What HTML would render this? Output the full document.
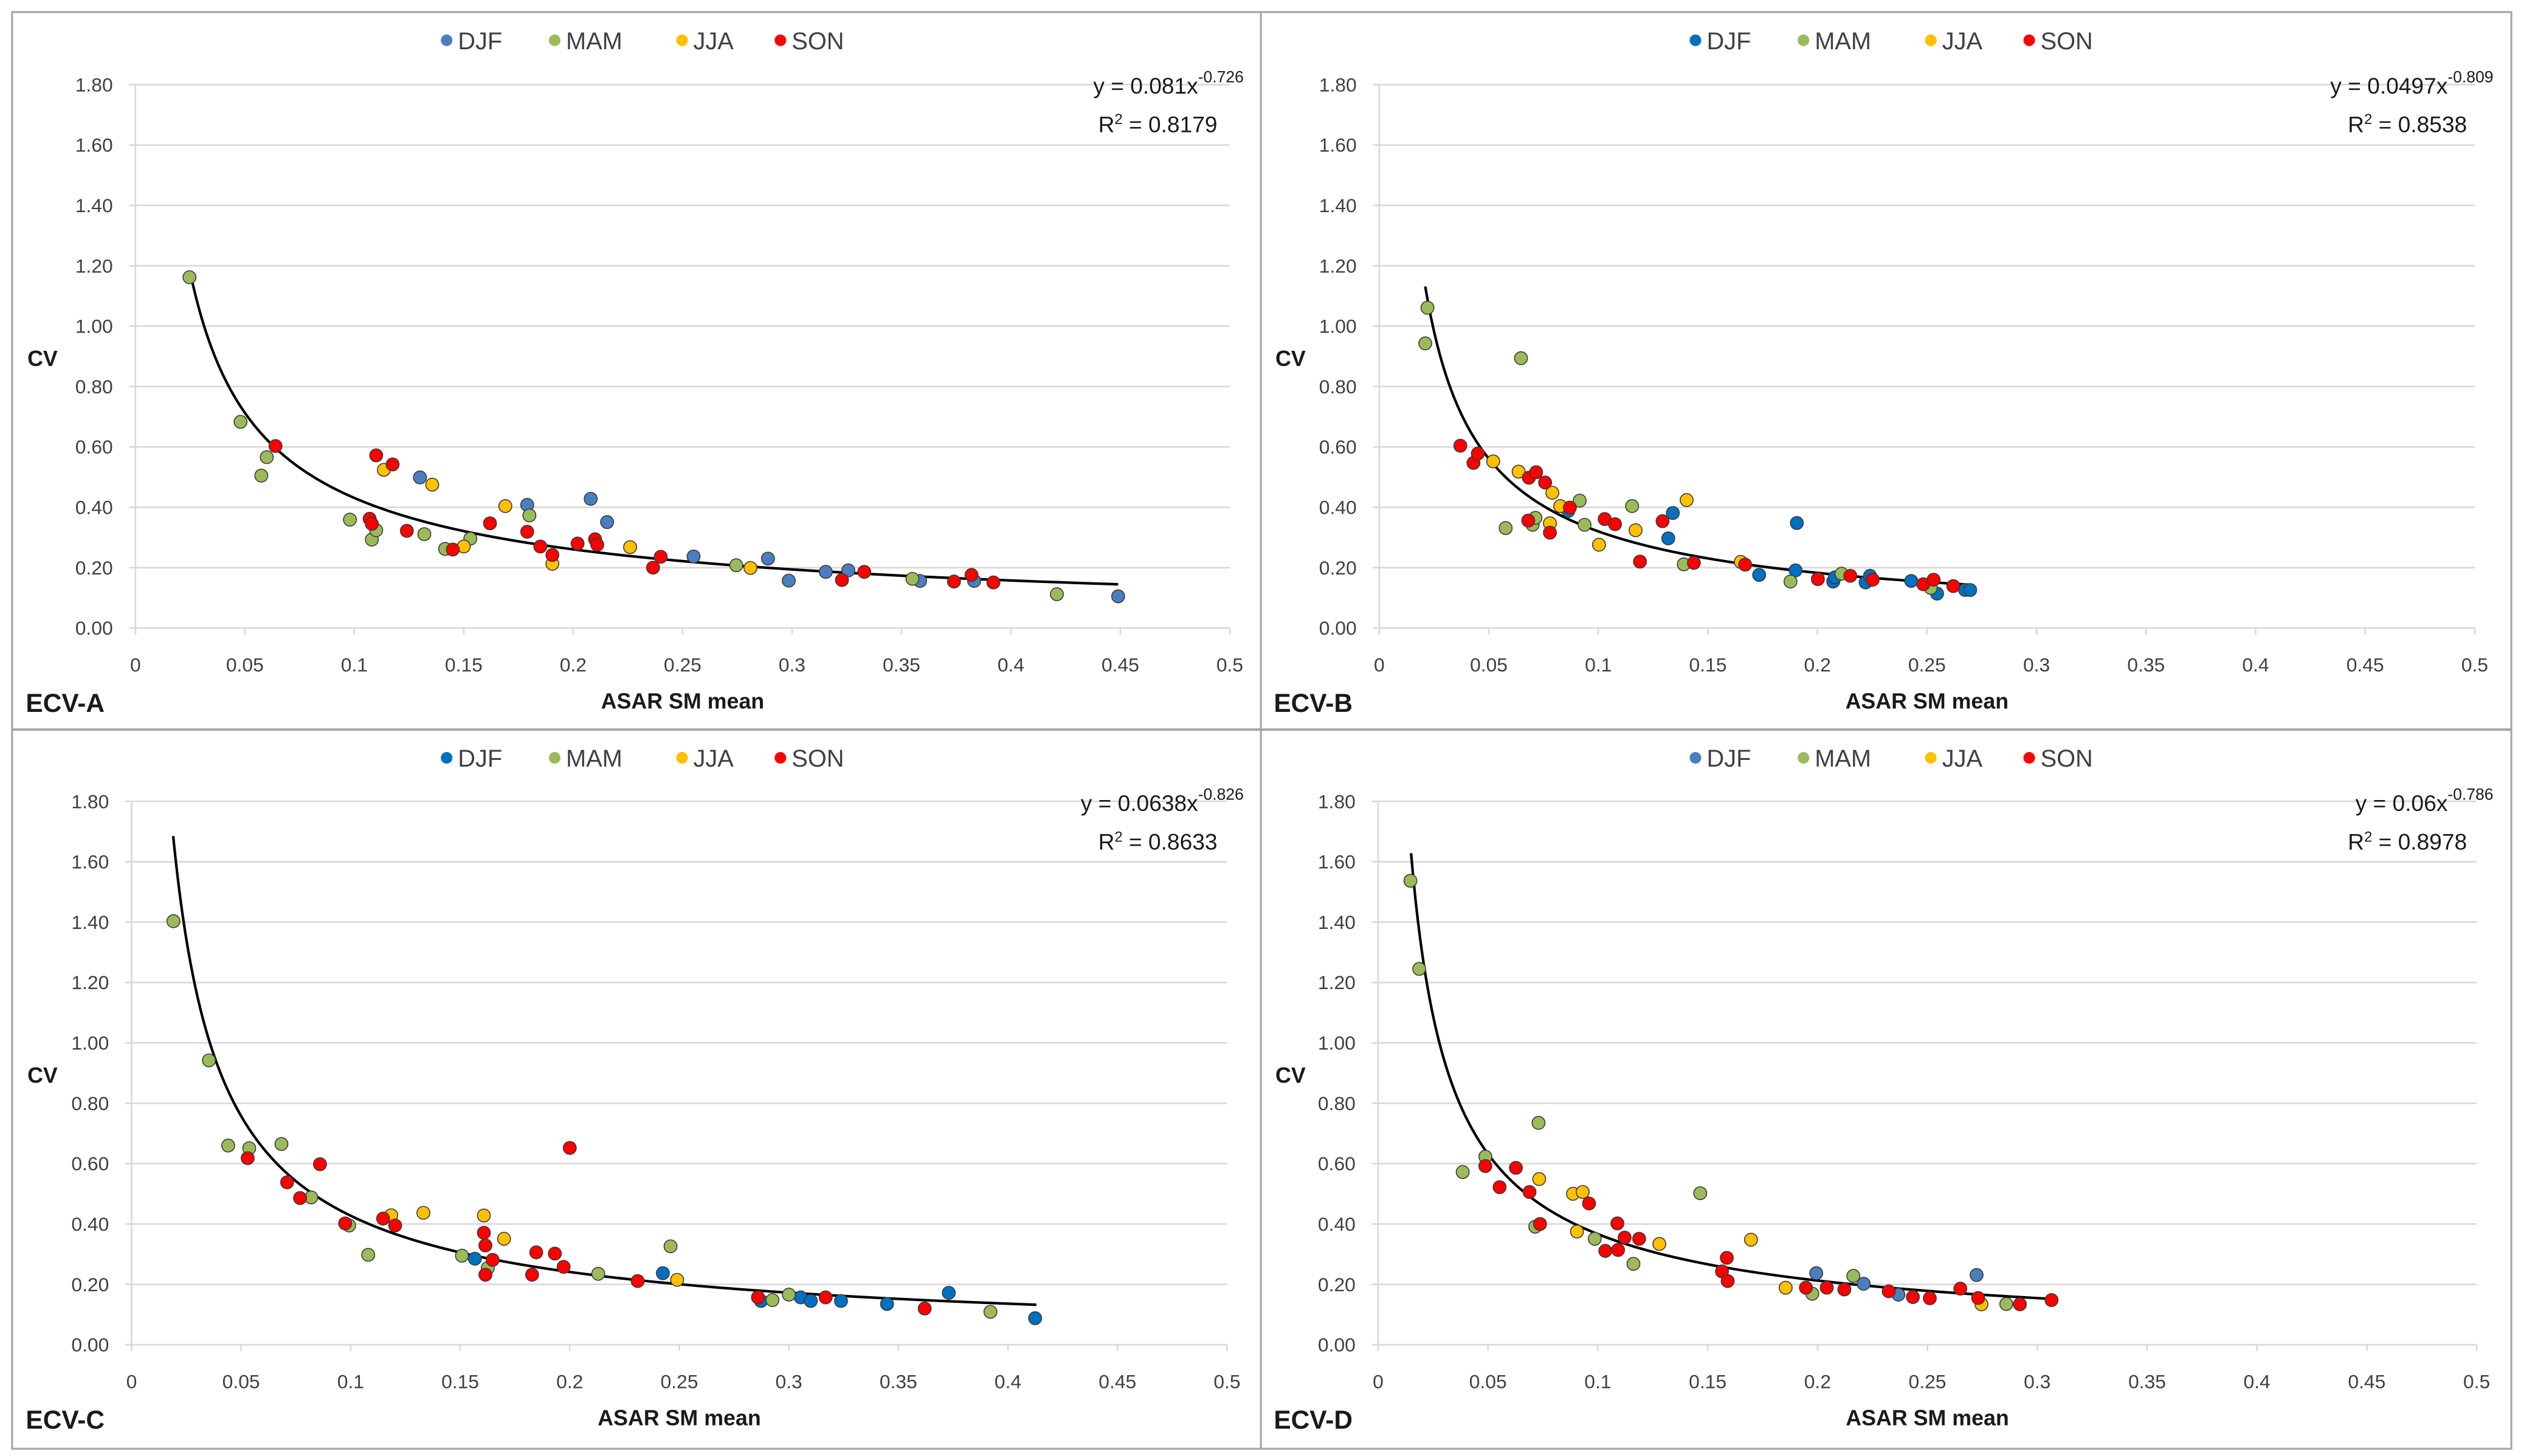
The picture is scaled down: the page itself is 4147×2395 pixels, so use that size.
<!DOCTYPE html>
<html><head><meta charset="utf-8"><style>
html,body{margin:0;padding:0;background:#fff;}
svg{display:block;font-family:"Liberation Sans",sans-serif;}
</style></head><body>
<svg id="fig" width="4147" height="2395" viewBox="0 0 1563.5 903" preserveAspectRatio="none" xmlns="http://www.w3.org/2000/svg">
<rect x="0" y="0" width="1563.5" height="903" fill="#fff"/>
<rect x="7.5" y="7.5" width="1550" height="891" fill="none" stroke="#a6a6a6" stroke-width="1.2"/>
<line x1="782" y1="7.5" x2="782" y2="898.5" stroke="#a6a6a6" stroke-width="1.2"/>
<line x1="7.5" y1="452.5" x2="1557.5" y2="452.5" stroke="#a6a6a6" stroke-width="1.5"/>
</svg>
<script>
// Tick labels
const yTicks = [0, 0.2, 0.4, 0.6, 0.8, 1.0, 1.2, 1.4, 1.6, 1.8];
const yTickLabels = ["0.00","0.20","0.40","0.60","0.80","1.00","1.20","1.40","1.60","1.80"];
const xTicks = [0, 0.05, 0.1, 0.15, 0.2, 0.25, 0.3, 0.35, 0.4, 0.45, 0.5];
const xTickLabels = ["0","0.05","0.1","0.15","0.2","0.25","0.3","0.35","0.4","0.45","0.5"];
const seasons = ["DJF","MAM","JJA","SON"];
const panelNames = ["ECV-A","ECV-B","ECV-C","ECV-D"];
// Power-law fits y = a x^b
const fitA = [0.081, 0.0497, 0.0638, 0.06];
const fitB = [-0.726, -0.809, -0.826, -0.786];
const fitR2 = ["0.8179","0.8538","0.8633","0.8978"];
const fitXmin = [0.025, 0.021, 0.019, 0.015];
const fitXmax = [0.449, 0.270, 0.413, 0.307];

// Panel A points [x, cv]
const A_DJF = [[0.130,0.499],[0.179,0.408],[0.208,0.428],[0.2155,0.351],[0.255,0.237],[0.289,0.230],[0.2985,0.157],[0.3154,0.186],[0.3257,0.191],[0.3585,0.156],[0.3832,0.156],[0.449,0.105]];
const A_MAM = [[0.0247,1.162],[0.048,0.683],[0.060,0.566],[0.0575,0.505],[0.098,0.359],[0.108,0.293],[0.110,0.324],[0.132,0.311],[0.1415,0.262],[0.153,0.296],[0.180,0.373],[0.2745,0.208],[0.355,0.163],[0.421,0.112]];
const A_JJA = [[0.1135,0.524],[0.1356,0.475],[0.169,0.404],[0.150,0.270],[0.1905,0.213],[0.226,0.268],[0.281,0.199]];
const A_SON = [[0.064,0.603],[0.110,0.572],[0.1175,0.542],[0.107,0.362],[0.108,0.345],[0.124,0.322],[0.145,0.260],[0.162,0.347],[0.179,0.319],[0.185,0.270],[0.1905,0.242],[0.202,0.280],[0.210,0.294],[0.211,0.276],[0.2365,0.200],[0.240,0.236],[0.3228,0.159],[0.333,0.186],[0.374,0.154],[0.382,0.176],[0.392,0.151]];
// Panel B
const B_DJF = [[0.0863,0.388],[0.1319,0.297],[0.134,0.381],[0.1734,0.176],[0.190,0.191],[0.1906,0.348],[0.2072,0.154],[0.208,0.168],[0.222,0.151],[0.224,0.173],[0.2428,0.156],[0.2546,0.114],[0.2674,0.126],[0.2697,0.126]];
const B_MAM = [[0.022,1.061],[0.021,0.943],[0.0647,0.894],[0.0577,0.331],[0.070,0.342],[0.0713,0.365],[0.0915,0.422],[0.0937,0.342],[0.1154,0.404],[0.139,0.211],[0.1877,0.154],[0.211,0.180],[0.2517,0.133]];
const B_JJA = [[0.052,0.552],[0.0636,0.518],[0.079,0.448],[0.0826,0.404],[0.0779,0.347],[0.1003,0.276],[0.117,0.324],[0.1403,0.424],[0.165,0.219]];
const B_SON = [[0.037,0.604],[0.043,0.547],[0.045,0.578],[0.068,0.356],[0.0683,0.498],[0.0716,0.516],[0.0757,0.482],[0.0779,0.316],[0.087,0.399],[0.1029,0.361],[0.1076,0.344],[0.1293,0.354],[0.119,0.220],[0.1436,0.216],[0.167,0.210],[0.2002,0.162],[0.215,0.173],[0.2252,0.160],[0.2483,0.145],[0.253,0.160],[0.262,0.139]];
// Panel C
const C_DJF = [[0.1567,0.285],[0.2425,0.237],[0.2873,0.145],[0.3054,0.157],[0.310,0.145],[0.3238,0.145],[0.3448,0.135],[0.373,0.172],[0.4124,0.088]];
const C_MAM = [[0.0191,1.403],[0.0353,0.942],[0.0441,0.660],[0.0537,0.651],[0.0684,0.665],[0.082,0.488],[0.0993,0.395],[0.108,0.298],[0.1508,0.295],[0.1626,0.254],[0.213,0.235],[0.246,0.326],[0.2925,0.148],[0.300,0.166],[0.392,0.109]];
const C_JJA = [[0.1185,0.429],[0.1332,0.437],[0.1608,0.428],[0.170,0.351],[0.249,0.215]];
const C_SON = [[0.053,0.618],[0.071,0.538],[0.0769,0.486],[0.086,0.598],[0.0975,0.402],[0.1148,0.418],[0.1203,0.395],[0.1608,0.371],[0.1615,0.329],[0.1615,0.232],[0.1648,0.281],[0.1828,0.232],[0.1847,0.306],[0.1932,0.302],[0.1972,0.258],[0.200,0.652],[0.231,0.211],[0.2859,0.157],[0.3168,0.157],[0.362,0.120]];
// Panel D
const D_DJF = [[0.1994,0.237],[0.221,0.202],[0.2368,0.166],[0.2724,0.231]];
const D_MAM = [[0.0147,1.537],[0.0187,1.245],[0.0385,0.572],[0.0488,0.623],[0.073,0.735],[0.0715,0.391],[0.0986,0.351],[0.1162,0.268],[0.1466,0.502],[0.1976,0.169],[0.2163,0.228],[0.2859,0.135]];
const D_JJA = [[0.0733,0.549],[0.0887,0.500],[0.0931,0.506],[0.0905,0.375],[0.128,0.334],[0.1697,0.348],[0.1855,0.189],[0.2746,0.134]];
const D_SON = [[0.0488,0.592],[0.0553,0.522],[0.0627,0.586],[0.0689,0.506],[0.0737,0.400],[0.096,0.468],[0.1034,0.311],[0.1089,0.402],[0.1092,0.314],[0.1122,0.355],[0.1188,0.351],[0.1565,0.243],[0.1587,0.288],[0.1591,0.211],[0.1947,0.189],[0.2042,0.189],[0.2122,0.183],[0.2324,0.177],[0.2434,0.158],[0.2511,0.154],[0.265,0.186],[0.2731,0.155],[0.2921,0.134],[0.3065,0.148]];

const panelData = [[A_DJF,A_MAM,A_JJA,A_SON],[B_DJF,B_MAM,B_JJA,B_SON],[C_DJF,C_MAM,C_JJA,C_SON],[D_DJF,D_MAM,D_JJA,D_SON]];

const NS = "http://www.w3.org/2000/svg";
const svg = document.getElementById("fig");
const layouts = [
  {ox:0, x0:84, x1:762.7, y0:389.5, y1:52.5, top:0},
  {ox:0, x0:855.4, x1:1534.8, y0:389.5, y1:52.5, top:0},
  {ox:0, x0:81.6, x1:761, y0:834, y1:497, top:445},
  {ox:0, x0:854.7, x1:1536, y0:834, y1:497, top:445}
];
const djfColors = ["#4a7ebf","#0070c0","#0070c0","#4a7ebf"];
const otherColors = {MAM:"#9bbb59", JJA:"#ffc000", SON:"#ff0000"};

function mk(tag, attrs, parent) {
  const e = document.createElementNS(NS, tag);
  for (const k in attrs) e.setAttribute(k, attrs[k]);
  parent.appendChild(e);
  return e;
}

layouts.forEach((L, p) => {
  const g = mk("g", {}, svg);
  
  
  const sx = v => L.x0 + v / 0.5 * (L.x1 - L.x0);
  const sy = v => L.y0 - v / 1.8 * (L.y0 - L.y1);
  const left = p % 2 === 0 ? 8 : 782;
  const right = p % 2 === 0 ? 782 : 1557;
  const cx = (left + right) / 2 - 8;

  // gridlines and y labels
  yTicks.forEach((t, i) => {
    const ln = mk("line", {x1:L.x0 - 4, x2:L.x1, y1:sy(t), y2:sy(t), stroke:"#d9d9d9", "stroke-width":1}, g);
    
    
    const tx = mk("text", {x:L.x0 - 14, y:sy(t) + 4.2, "text-anchor":"end", "font-size":12, fill:"#404040"}, g);
    tx.textContent = yTickLabels[i];
    
    
  });
  const ya = mk("line", {x1:L.x0, x2:L.x0, y1:L.y1, y2:L.y0 + 4, stroke:"#d9d9d9", "stroke-width":1}, g);
  
  
  xTicks.forEach((t, i) => {
    const tk = mk("line", {x1:sx(t), x2:sx(t), y1:L.y0, y2:L.y0 + 4, stroke:"#d9d9d9", "stroke-width":1}, g);
    
    
    const tx = mk("text", {x:sx(t), y:L.y0 + 27, "text-anchor":"middle", "font-size":12, fill:"#404040"}, g);
    tx.textContent = xTickLabels[i];
    
    
  });
  // axis titles
  const xt = mk("text", {x:(L.x0 + L.x1) / 2, y:L.y0 + 50, "text-anchor":"middle", "font-size":13.5, "font-weight":"bold", fill:"#1a1a1a"}, g);
  xt.textContent = "ASAR SM mean";
  
  
  const yt = mk("text", {x:left + 9, y:(L.y0 + L.y1) / 2 + 6, "font-size":13.5, "font-weight":"bold", fill:"#1a1a1a"}, g);
  yt.textContent = "CV";
  
  
  const pl = mk("text", {x:left + 8, y:L.y0 + 52, "font-size":16, "font-weight":"bold", fill:"#1a1a1a"}, g);
  pl.textContent = panelNames[p];
  
  

  // legend
  const legX = [cx - 110, cx - 43, cx + 36, cx + 97];
  seasons.forEach((s, i) => {
    const col = s === "DJF" ? djfColors[p] : otherColors[s];
    const lg = mk("g", {}, g);
    
    
    mk("circle", {cx:legX[i], cy:L.top + 25, r:3.6, fill:col}, lg);
    const t = mk("text", {x:legX[i] + 7, y:L.top + 30.5, "font-size":15, fill:"#404040"}, lg);
    t.textContent = s;
  });

  // trend line
  let d = "";
  const N = 200;
  for (let k = 0; k <= N; k++) {
    const xv = fitXmin[p] * Math.pow(fitXmax[p] / fitXmin[p], k / N);
    const yv = fitA[p] * Math.pow(xv, fitB[p]);
    d += (k ? "L" : "M") + sx(xv).toFixed(2) + " " + sy(yv).toFixed(2);
  }
  const tr = mk("path", {d:d, fill:"none", stroke:"#000", "stroke-width":1.6}, g);
  
  

  // points
  panelData[p].forEach((pts, si) => {
    const s = seasons[si];
    const col = s === "DJF" ? djfColors[p] : otherColors[s];
    pts.forEach(pt => {
      const c = mk("circle", {cx:sx(pt[0]), cy:sy(pt[1]), r:4, fill:col, stroke:"#3a3a3a", "stroke-width":0.6}, g);
      
      
    });
  });

  // equation
  const eqX = p % 2 === 0 ? 767 : 1542;
  const eq = mk("text", {x:eqX - 24, y:L.top + 58, "text-anchor":"end", "font-size":14, fill:"#1a1a1a"}, g);
  eq.textContent = "y = " + fitA[p] + "x";
  
  
  const ex = mk("text", {x:eqX - 24, y:L.top + 51, "font-size":10, fill:"#1a1a1a"}, g);
  ex.textContent = String(fitB[p]);
  
  
  const r2 = mk("text", {x:eqX - 12, y:L.top + 82, "text-anchor":"end", "font-size":14, fill:"#1a1a1a"}, g);
  r2.innerHTML = 'R<tspan dy="-5" font-size="9">2</tspan><tspan dy="5"> = ' + fitR2[p] + '</tspan>';
  
  
});
</script>
</body></html>
